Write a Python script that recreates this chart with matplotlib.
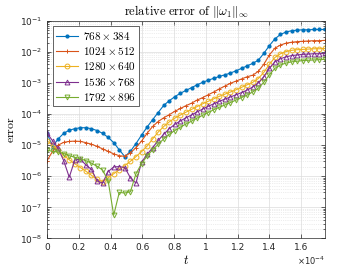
import numpy as np
import matplotlib
matplotlib.use("Agg")
import matplotlib.pyplot as plt
from matplotlib.ticker import LogLocator, FixedLocator, FuncFormatter, NullFormatter
from matplotlib.font_manager import FontProperties

# time in units of 1e-4
t = np.arange(51) * 0.035

labels = [r'$768\times384$', r'$1024\times512$', r'$1280\times640$',
          r'$1536\times768$', r'$1792\times896$']

# log10 of the relative error
err_768 = [-4.61, -5.05, -4.80, -4.62, -4.52, -4.47, -4.44, -4.44, -4.47, -4.53,
           -4.62, -4.75, -4.92, -5.15, -5.37, -5.20, -4.95, -4.68, -4.42, -4.18,
           -3.95, -3.72, -3.57, -3.44, -3.33, -3.24, -3.15, -3.06, -2.98, -2.91,
           -2.85, -2.79, -2.74, -2.68, -2.61, -2.53, -2.45, -2.37, -2.27, -2.05,
           -1.80, -1.58, -1.44, -1.36, -1.32, -1.30, -1.29, -1.29, -1.28, -1.28,
           -1.28]
err_1024 = [-5.50, -5.20, -5.00, -4.91, -4.88, -4.87, -4.88, -4.92, -4.97, -5.04,
            -5.12, -5.20, -5.28, -5.34, -5.36, -5.25, -5.08, -4.87, -4.62, -4.40,
            -4.24, -4.12, -4.02, -3.91, -3.82, -3.73, -3.65, -3.55, -3.47, -3.38,
            -3.29, -3.19, -3.10, -3.01, -2.94, -2.87, -2.80, -2.75, -2.63, -2.40,
            -2.10, -1.88, -1.78, -1.72, -1.69, -1.67, -1.66, -1.65, -1.64, -1.64,
            -1.63]
err_1280 = [-4.86, -5.00, -5.16, -5.32, -5.47, -5.60, -5.72, -5.84, -5.97, -6.10,
            -6.17, -6.05, -5.92, -5.79, -5.66, -5.52, -5.37, -5.21, -5.03, -4.80,
            -4.58, -4.40, -4.25, -4.13, -4.03, -3.94, -3.85, -3.76, -3.67, -3.59,
            -3.51, -3.43, -3.36, -3.29, -3.22, -3.14, -3.06, -2.98, -2.86, -2.66,
            -2.40, -2.18, -2.06, -1.99, -1.95, -1.93, -1.92, -1.91, -1.90, -1.90,
            -1.89]
err_1536 = [-4.61, -4.86, -5.10, -5.50, -6.03, -5.48, -5.45, -5.64, -5.78, -6.15,
            -6.22, -5.85, -5.70, -5.69, -5.72, -6.05, -6.22, -5.55, -5.30, -5.08,
            -4.85, -4.65, -4.47, -4.33, -4.22, -4.12, -4.03, -3.93, -3.84, -3.75,
            -3.67, -3.59, -3.52, -3.45, -3.38, -3.31, -3.23, -3.13, -3.00, -2.80,
            -2.53, -2.32, -2.22, -2.16, -2.12, -2.10, -2.08, -2.07, -2.06, -2.06,
            -2.05]
err_1792 = [-5.16, -5.20, -5.22, -5.27, -5.34, -5.39, -5.44, -5.50, -5.58, -5.68,
            -5.80, -6.15, -7.25, -6.52, -6.54, -6.50, -5.92, -5.60, -5.35, -5.15,
            -4.97, -4.80, -4.65, -4.53, -4.42, -4.32, -4.23, -4.13, -4.04, -3.95,
            -3.86, -3.78, -3.71, -3.63, -3.55, -3.47, -3.39, -3.29, -3.17, -2.98,
            -2.74, -2.53, -2.42, -2.36, -2.32, -2.30, -2.28, -2.27, -2.26, -2.25,
            -2.24]

series = [err_768, err_1024, err_1280, err_1536, err_1792]
colors = ['#0072BD', '#D95319', '#EDB120', '#7E2F8E', '#77AC30']
markers = ['.', '+', 'o', '^', 'v']

plt.rcParams['mathtext.fontset'] = 'dejavusans'
plt.rcParams['font.family'] = 'DejaVu Sans'

fig = plt.figure(figsize=(3.6, 2.7), dpi=100)
ax = fig.add_axes([0.1306, 0.117, 0.772, 0.806])

for i in range(len(series)):
    y = 10.0 ** np.array(series[i])
    if markers[i] == '.':
        ax.plot(t, y, color=colors[i], marker='.', markersize=4, lw=0.8,
                label=labels[i])
    else:
        ax.plot(t, y, color=colors[i], marker=markers[i], markersize=3.5,
                markerfacecolor='none', markeredgewidth=0.7, lw=0.8,
                label=labels[i])

ax.set_yscale('log')
ax.set_xlim(0, 1.75)
ax.set_ylim(1e-8, 1e-1)
ax.xaxis.set_major_locator(FixedLocator([0, 0.2, 0.4, 0.6, 0.8, 1.0, 1.2, 1.4, 1.6]))
ax.xaxis.set_major_formatter(FuncFormatter(lambda v, p: '%g' % v))
ax.yaxis.set_major_locator(LogLocator(base=10, numticks=12))
ax.yaxis.set_minor_locator(LogLocator(base=10, subs=np.arange(2, 10), numticks=12))
ax.yaxis.set_minor_formatter(NullFormatter())

ax.tick_params(which='both', direction='in', top=True, right=True,
               labelsize=6.5, colors='#262626', width=0.5)
ax.tick_params(which='major', length=3)
ax.tick_params(which='minor', length=1.5)
for s in ax.spines.values():
    s.set_color('#262626')
    s.set_linewidth(0.5)

ax.grid(True, which='major', color='#dcdcdc', lw=0.5)
ax.grid(True, which='minor', axis='y', color='#dcdcdc', lw=0.5, ls=':')
ax.set_axisbelow(True)

ax.set_title(r'$\mathrm{relative\ error\ of\ }\|\omega_1\|_\infty$',
             fontsize=9, math_fontfamily='cm', pad=4)
ax.set_xlabel(r'$t$', fontsize=9, math_fontfamily='cm', labelpad=1)
ax.set_ylabel(r'$\mathrm{error}$', fontsize=8.5, math_fontfamily='cm', labelpad=2)
ax.text(1.0, -0.075, r'$\times10^{-4}$', transform=ax.transAxes,
        ha='right', va='top', fontsize=6, color='#262626')

leg = ax.legend(loc='upper left', prop=FontProperties(size=8, math_fontfamily='cm'),
                fancybox=False, framealpha=1, edgecolor='#262626',
                borderpad=0.3, labelspacing=0.3, handlelength=2.0,
                handletextpad=0.4, borderaxespad=0.5)
leg.get_frame().set_linewidth(0.5)

fig.savefig('out.png', dpi=100)
